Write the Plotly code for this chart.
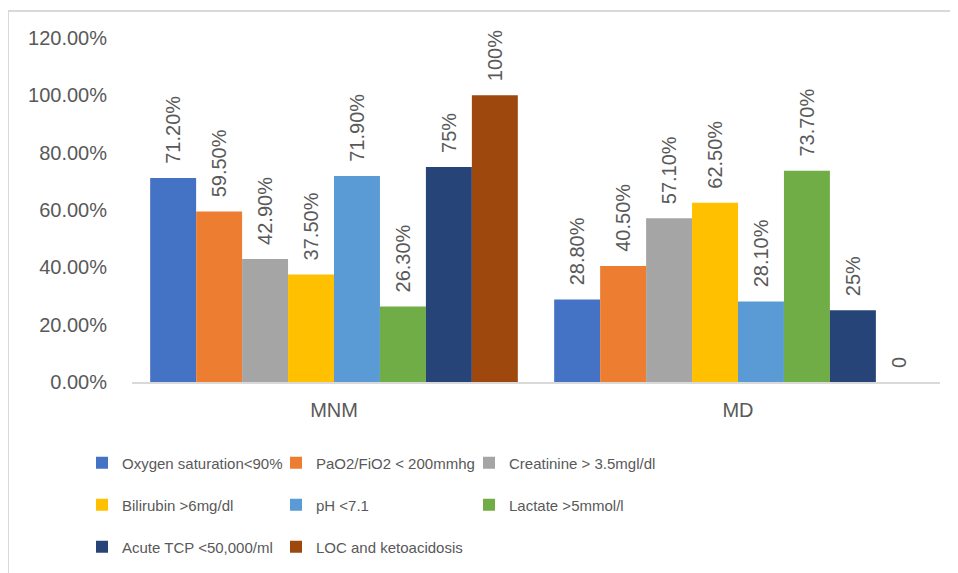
import plotly.graph_objects as go

categories = ["MNM", "MD"]
series_names = [
    "Oxygen saturation<90%",
    "PaO2/FiO2 < 200mmhg",
    "Creatinine > 3.5mgl/dl",
    "Bilirubin >6mg/dl",
    "pH <7.1",
    "Lactate >5mmol/l",
    "Acute TCP <50,000/ml",
    "LOC and ketoacidosis",
]
oxygen = [0.712, 0.288]
pao2 = [0.595, 0.405]
creatinine = [0.429, 0.571]
bilirubin = [0.375, 0.625]
ph = [0.719, 0.281]
lactate = [0.263, 0.737]
tcp = [0.75, 0.25]
loc = [1.00, 0.0]
series_values = [oxygen, pao2, creatinine, bilirubin, ph, lactate, tcp, loc]

labels_oxygen = ["71.20%", "28.80%"]
labels_pao2 = ["59.50%", "40.50%"]
labels_creatinine = ["42.90%", "57.10%"]
labels_bilirubin = ["37.50%", "62.50%"]
labels_ph = ["71.90%", "28.10%"]
labels_lactate = ["26.30%", "73.70%"]
labels_tcp = ["75%", "25%"]
labels_loc = ["100%", "0"]
series_labels = [labels_oxygen, labels_pao2, labels_creatinine, labels_bilirubin,
                 labels_ph, labels_lactate, labels_tcp, labels_loc]

colors = ["#4472C4", "#ED7D31", "#A5A5A5", "#FFC000", "#5B9BD5", "#70AD47", "#264478", "#9E480E"]

FONT = "Liberation Sans, Arial, sans-serif"
GRAY = "#595959"

# page has an 8px body margin; work in page pixels and convert
OFF = 8
W, H = 958 - OFF, 573 - OFF
PL, PR, PT, PB = 132, 940, 38, 382  # plot area in page pixels
L, T = PL - OFF, PT - OFF
R = W - (PR - OFF)
B = H - (PB - OFF)
pw, ph_ = W - L - R, H - T - B

def px_x(px):
    return (px - OFF - L) / pw

def px_y(py):
    return (H - B - (py - OFF)) / ph_

# legend grid: 3 columns, 3 rows (page pixels)
col_x = [82, 276, 469]
row_y = [463, 505, 547]

fig = go.Figure()
legends = {}
for i, (name, vals, labs, col) in enumerate(zip(series_names, series_values, series_labels, colors)):
    lid = "legend" if i == 0 else f"legend{i + 1}"
    fig.add_trace(go.Bar(
        name=name,
        x=categories,
        y=vals,
        text=["\u00a0\u00a0" + t for t in labs],
        textposition="outside",
        textangle=-90,
        constraintext="none",
        cliponaxis=False,
        textfont=dict(family=FONT, size=20, color=GRAY),
        marker=dict(color=col, line=dict(width=0)),
        legend=lid,
        hoverinfo="skip",
    ))
    legends[lid] = dict(
        orientation="h",
        xanchor="left",
        yanchor="middle",
        x=px_x(col_x[i % 3]),
        y=px_y(row_y[i // 3]),
        font=dict(family=FONT, size=15, color=GRAY),
        bgcolor="rgba(0,0,0,0)",
        borderwidth=0,
        itemclick=False,
        itemdoubleclick=False,
    )

fig.update_layout(
    width=W,
    height=H,
    margin=dict(l=L, r=R, t=T, b=B, pad=0, autoexpand=False),
    paper_bgcolor="white",
    plot_bgcolor="white",
    barmode="group",
    bargap=0.09,
    bargroupgap=0,
    font=dict(family=FONT, color=GRAY),
    showlegend=True,
    xaxis=dict(
        showline=True,
        linecolor="#D9D9D9",
        linewidth=2,
        ticks="",
        showgrid=False,
        zeroline=False,
        automargin=False,
        tickfont=dict(family=FONT, size=20, color=GRAY),
        ticklabelstandoff=9,
    ),
    yaxis=dict(
        range=[0, 1.2],
        dtick=0.2,
        tick0=0,
        tickformat=".2%",
        showgrid=False,
        zeroline=False,
        showline=False,
        automargin=False,
        ticks="",
        tickfont=dict(family=FONT, size=20, color=GRAY),
        ticklabelstandoff=24,
    ),
    shapes=[
        dict(type="line", xref="paper", yref="paper",
             x0=px_x(8), x1=px_x(8), y0=px_y(580), y1=px_y(11),
             line=dict(color="#D9D9D9", width=2)),
        dict(type="line", xref="paper", yref="paper",
             x0=px_x(8), x1=px_x(965), y0=px_y(11), y1=px_y(11),
             line=dict(color="#D9D9D9", width=2)),
    ],
    **legends,
)

fig.write_html("out.html")
